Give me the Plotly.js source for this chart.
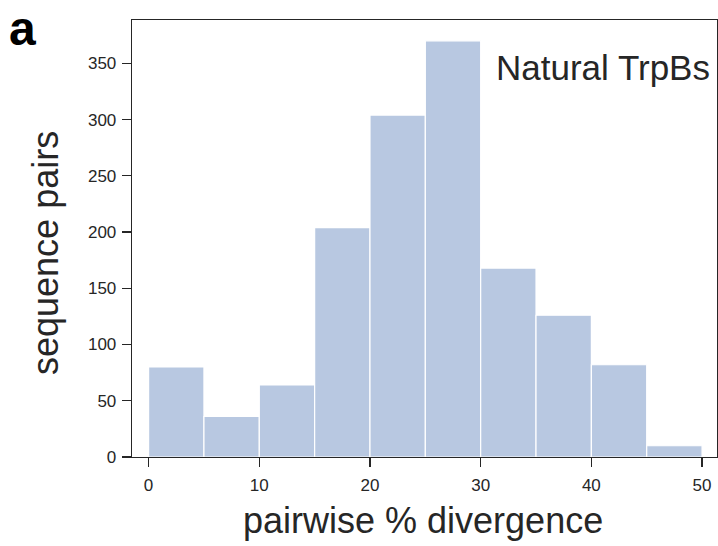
<!DOCTYPE html>
<html>
<head>
<meta charset="utf-8">
<script src="https://cdn.plot.ly/plotly-3.0.1.min.js"></script>
<style>
  html, body { margin: 0; padding: 0; background: #ffffff; }
  #chart { width: 718px; height: 546px; }
</style>
</head>
<body>
<div id="chart"></div>
<script>
// Pairwise sequence divergence among natural TrpB sequences, pre-binned (5% bins)
const binStarts = [0, 5, 10, 15, 20, 25, 30, 35, 40, 45];
const binWidth = 5;
const pairCounts = [80, 36, 64, 204, 304, 370, 168, 126, 82, 10];
const xTicks = [0, 10, 20, 30, 40, 50];
const yTicks = [0, 50, 100, 150, 200, 250, 300, 350];

const FONT = '"Liberation Sans", Arial, Helvetica, sans-serif';
const INK = '#262626';

const trace = {
  type: 'bar',
  x: binStarts,
  y: pairCounts,
  width: binStarts.map(() => binWidth),
  offset: 0,
  marker: {
    color: 'rgb(184,200,225)',
    line: { color: '#ffffff', width: 1.2 }
  },
  hoverinfo: 'x+y'
};

const axisCommon = {
  showline: true,
  mirror: true,
  linecolor: INK,
  linewidth: 1.3,
  ticks: 'outside',
  ticklen: 9,
  tickwidth: 1.3,
  tickcolor: INK,
  showgrid: false,
  zeroline: false,
  tickfont: { family: FONT, size: 17, color: INK }
};

const layout = {
  width: 718,
  height: 546,
  paper_bgcolor: '#ffffff',
  plot_bgcolor: '#ffffff',
  margin: { l: 132, r: 1, t: 20, b: 89 },
  showlegend: false,
  bargap: 0,
  xaxis: Object.assign({}, axisCommon, {
    range: [-1.5, 51.35],
    tickmode: 'array',
    tickvals: xTicks,
    ticktext: xTicks.map(String),
    ticklabelstandoff: 3
  }),
  yaxis: Object.assign({}, axisCommon, {
    range: [0, 388.5],
    tickmode: 'array',
    tickvals: yTicks,
    ticktext: yTicks.map(String),
    ticklabelstandoff: 2
  }),
  annotations: [
    {
      // panel letter
      text: '<b>a</b>', xref: 'paper', yref: 'paper',
      x: -125 / 585, y: 1 + 20 / 437, xanchor: 'left', yanchor: 'top',
      showarrow: false, font: { family: FONT, size: 48, color: '#000000' }
    },
    {
      text: 'Natural TrpBs', xref: 'paper', yref: 'paper',
      x: (712 - 132) / 585, y: 1 - 26 / 437, xanchor: 'right', yanchor: 'top',
      showarrow: false, font: { family: FONT, size: 35, color: INK }
    },
    {
      text: 'pairwise % divergence', xref: 'paper', yref: 'paper',
      x: (423 - 132) / 585, y: -(520 - 457) / 437, xanchor: 'center', yanchor: 'middle',
      showarrow: false, font: { family: FONT, size: 36, color: INK }
    },
    {
      text: 'sequence pairs', xref: 'paper', yref: 'paper', textangle: -90,
      x: -(132 - 46) / 585, y: (457 - 253) / 437, xanchor: 'center', yanchor: 'middle',
      showarrow: false, font: { family: FONT, size: 36, color: INK }
    }
  ]
};

Plotly.newPlot('chart', [trace], layout, { displayModeBar: false, staticPlot: true });
</script>
</body>
</html>
